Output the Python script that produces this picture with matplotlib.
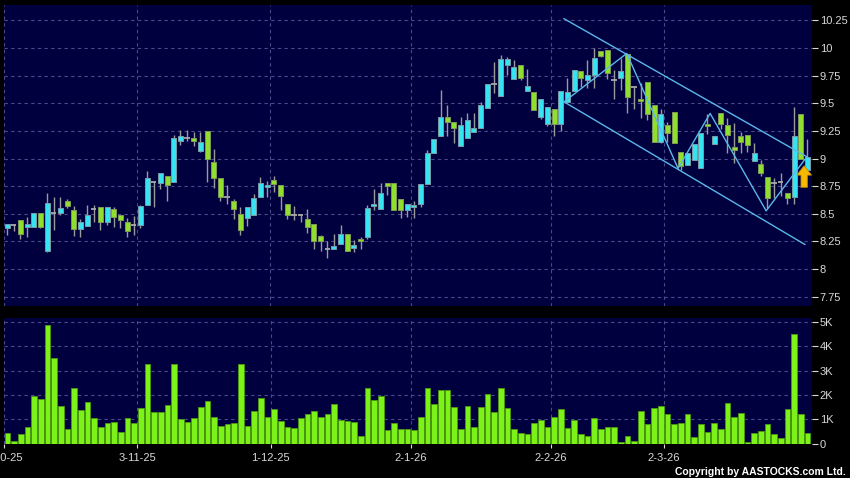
import matplotlib
matplotlib.use("Agg")
import matplotlib.pyplot as plt
import numpy as np

# daily OHLC (oldest first)
opens = [8.37, 8.40, 8.44, 8.38, 8.38, 8.51, 8.16, 8.51, 8.51, 8.62,
         8.53, 8.36, 8.39, 8.54, 8.56, 8.43, 8.54, 8.49, 8.43, 8.40,
         8.40, 8.58, 8.79, 8.78, 8.84, 8.79, 9.16, 9.19, 9.19, 9.07,
         9.25, 8.97, 8.82, 8.65, 8.62, 8.50, 8.46, 8.49, 8.65, 8.74,
         8.81, 8.76, 8.59, 8.49, 8.49, 8.45, 8.41, 8.30, 8.18, 8.18,
         8.23, 8.32, 8.19, 8.27, 8.29, 8.57, 8.54, 8.78, 8.78, 8.63,
         8.53, 8.56, 8.59, 8.77, 9.05, 9.20, 9.38, 9.33, 9.11, 9.19,
         9.24, 9.28, 9.46, 9.67, 9.57, 9.85, 9.72, 9.85, 9.61, 9.60,
         9.38, 9.31, 9.45, 9.31, 9.51, 9.61, 9.79, 9.71, 9.76, 9.97,
         9.98, 9.71, 9.73, 9.95, 9.65, 9.54, 9.69, 9.48, 9.15, 9.30,
         9.42, 9.06, 8.94, 8.99, 8.91, 9.31, 9.13, 9.41, 9.30, 9.10,
         9.20, 9.21, 8.98, 8.95, 8.83, 8.78, 8.79, 8.69, 8.65, 9.40,
         8.90]
highs = [8.41, 8.41, 8.44, 8.47, 8.51, 8.51, 8.69, 8.65, 8.65, 8.63,
         8.57, 8.45, 8.58, 8.58, 8.56, 8.56, 8.56, 8.49, 8.46, 8.48,
         8.58, 8.89, 8.79, 8.87, 8.84, 9.21, 9.26, 9.26, 9.24, 9.24,
         9.25, 9.09, 8.82, 8.76, 8.63, 8.56, 8.56, 8.68, 8.83, 8.80,
         8.84, 8.76, 8.59, 8.57, 8.50, 8.54, 8.41, 8.31, 8.25, 8.32,
         8.40, 8.32, 8.26, 8.29, 8.58, 8.72, 8.78, 8.78, 8.78, 8.63,
         8.59, 8.62, 8.77, 9.08, 9.18, 9.62, 9.48, 9.33, 9.38, 9.41,
         9.41, 9.51, 9.67, 9.87, 9.94, 9.92, 9.89, 9.85, 9.81, 9.60,
         9.54, 9.47, 9.45, 9.61, 9.73, 9.80, 9.79, 9.89, 10.00, 9.97,
         9.98, 9.80, 9.91, 9.95, 9.65, 9.68, 9.69, 9.48, 9.45, 9.33,
         9.42, 9.06, 9.05, 9.13, 9.23, 9.40, 9.20, 9.41, 9.37, 9.32,
         9.24, 9.21, 9.14, 8.99, 8.83, 8.82, 8.87, 8.69, 9.47, 9.40,
         9.18]
lows = [8.31, 8.34, 8.27, 8.29, 8.38, 8.37, 8.15, 8.35, 8.49, 8.55,
        8.30, 8.29, 8.39, 8.43, 8.35, 8.40, 8.38, 8.37, 8.29, 8.31,
        8.37, 8.58, 8.56, 8.72, 8.62, 8.79, 9.12, 9.16, 9.11, 9.06,
        8.79, 8.73, 8.62, 8.59, 8.45, 8.31, 8.39, 8.49, 8.65, 8.65,
        8.70, 8.53, 8.45, 8.44, 8.43, 8.33, 8.18, 8.16, 8.10, 8.18,
        8.23, 8.16, 8.15, 8.18, 8.27, 8.53, 8.54, 8.67, 8.53, 8.46,
        8.47, 8.46, 8.56, 8.77, 9.05, 9.20, 9.20, 9.14, 9.11, 9.19,
        9.24, 9.28, 9.46, 9.59, 9.57, 9.76, 9.72, 9.71, 9.61, 9.44,
        9.36, 9.29, 9.20, 9.25, 9.51, 9.61, 9.65, 9.64, 9.64, 9.92,
        9.72, 9.54, 9.62, 9.41, 9.45, 9.37, 9.35, 9.15, 9.14, 9.15,
        9.14, 8.90, 8.94, 8.99, 8.91, 9.22, 9.13, 9.27, 9.05, 8.96,
        9.05, 9.06, 8.98, 8.84, 8.55, 8.64, 8.66, 8.59, 8.59, 9.00,
        8.90]
closes = [8.41, 8.40, 8.32, 8.41, 8.51, 8.38, 8.60, 8.51, 8.55, 8.57,
          8.36, 8.43, 8.49, 8.54, 8.43, 8.56, 8.47, 8.44, 8.34, 8.40,
          8.57, 8.82, 8.79, 8.87, 8.76, 9.19, 9.20, 9.19, 9.16, 9.15,
          9.00, 8.82, 8.65, 8.65, 8.54, 8.35, 8.56, 8.64, 8.78, 8.76,
          8.77, 8.66, 8.49, 8.49, 8.49, 8.38, 8.25, 8.25, 8.18, 8.21,
          8.32, 8.16, 8.22, 8.25, 8.55, 8.59, 8.69, 8.75, 8.53, 8.53,
          8.59, 8.58, 8.77, 9.05, 9.18, 9.38, 9.33, 9.28, 9.30, 9.35,
          9.28, 9.48, 9.67, 9.67, 9.90, 9.90, 9.83, 9.73, 9.66, 9.44,
          9.54, 9.47, 9.31, 9.61, 9.60, 9.80, 9.73, 9.76, 9.91, 9.93,
          9.77, 9.71, 9.79, 9.56, 9.65, 9.52, 9.40, 9.15, 9.40, 9.23,
          9.14, 8.93, 9.05, 9.13, 9.23, 9.29, 9.20, 9.31, 9.21, 9.08,
          9.15, 9.12, 9.05, 8.87, 8.64, 8.78, 8.79, 8.64, 9.20, 9.00,
          9.01]
# volume in thousands
volume = [0.45, 0.10, 0.41, 0.69, 1.94, 1.82, 4.88, 3.51, 1.56, 0.61,
          2.29, 1.36, 1.71, 1.07, 0.66, 0.84, 0.87, 0.47, 1.03, 0.84,
          1.45, 3.28, 1.31, 1.28, 1.58, 3.28, 1.02, 0.88, 1.05, 1.52,
          1.74, 1.10, 0.72, 0.81, 0.84, 3.28, 0.74, 1.35, 1.89, 1.10,
          1.43, 0.92, 0.67, 0.63, 1.03, 1.20, 1.35, 1.10, 1.21, 1.63,
          0.98, 0.91, 0.88, 0.29, 2.29, 1.79, 1.97, 0.56, 0.83, 0.59,
          0.59, 0.56, 1.09, 2.29, 1.64, 2.22, 2.19, 1.52, 0.58, 1.53,
          0.69, 1.49, 2.04, 1.31, 2.27, 1.45, 0.61, 0.44, 0.39, 0.83,
          0.98, 0.70, 1.10, 1.43, 0.63, 0.96, 0.40, 0.32, 1.05, 0.58,
          0.67, 0.70, 0.08, 0.30, 0.12, 1.35, 0.80, 1.45, 1.54, 1.21,
          0.81, 0.84, 1.23, 0.26, 0.81, 0.47, 0.83, 0.61, 1.65, 1.09,
          1.24, 0.06, 0.44, 0.50, 0.81, 0.39, 0.23, 1.42, 4.53, 1.21,
          0.43]

# month starts (bar index) and labels
date_idx = [0, 20, 40, 61, 82, 99]
date_labels = ["2-10-25", "3-11-25", "1-12-25", "2-1-26", "2-2-26", "2-3-26"]

price_ticks = [7.75, 8, 8.25, 8.5, 8.75, 9, 9.25, 9.5, 9.75, 10, 10.25]
vol_ticks = [0, 1, 2, 3, 4, 5]
vol_labels = ["0", "1K", "2K", "3K", "4K", "5K"]

# drawn trend channel and zigzag (bar index, price)
upper_x = [83.5, 119.9]
upper_y = [10.265, 9.016]
lower_x = [83.5, 119.6]
lower_y = [9.513, 8.223]
zig_x = [83.5, 92.9, 100.6, 105.4, 113.8, 119.9]
zig_y = [9.513, 9.951, 8.911, 9.408, 8.527, 9.016]

BG = "#00003f"
GRID = "#4a4a8a"
TXT = "#d8d8d8"
UP = "#36e3f0"
DOWN = "#8fe02c"
LINE = "#5ab8ea"

plt.rcParams["font.family"] = ["Liberation Sans", "DejaVu Sans"]

fig = plt.figure(figsize=(8.5, 4.78), dpi=100, facecolor="black")
W, H = 850.0, 478.0
ax = fig.add_axes([4 / W, 1 - 306 / H, 807.5 / W, 301 / H], facecolor=BG)
axv = fig.add_axes([4 / W, 1 - 443.5 / H, 807.5 / W, 125.5 / H], facecolor=BG)

n = len(closes)
x = np.arange(n)
o = np.array(opens)
c = np.array(closes)

# candles
ax.vlines(x, lows, highs, color="#9a9a9a", lw=1, zorder=2)
up = c > o
dn = c < o
eq = c == o
ax.bar(x[up], (c - o)[up], bottom=o[up], width=0.75, color=UP,
       edgecolor="#7a9aa6", lw=0.7, zorder=3)
ax.bar(x[dn], (o - c)[dn], bottom=c[dn], width=0.75, color=DOWN,
       edgecolor="#7f9a55", lw=0.7, zorder=3)
ax.hlines(c[eq], x[eq] - 0.4, x[eq] + 0.4, color="#a8a8a8", lw=1.3, zorder=3)

ax.plot(upper_x, upper_y, color=LINE, lw=1, zorder=4)
ax.plot(lower_x, lower_y, color=LINE, lw=1, zorder=4)
ax.plot(zig_x, zig_y, color=LINE, lw=1, zorder=4)

ax.arrow(119.5, 8.74, 0, 0.195, width=0.95, head_width=2.2, head_length=0.085,
         length_includes_head=True, fc="#f7b900", ec="#c98a00", lw=0.6, zorder=5)

# volume
axv.bar(x, volume, width=0.85, color="#7cf218", edgecolor="#4c9a10", lw=0.6, zorder=3)

grid_x = [d - 0.5 for d in date_idx]
for a in (ax, axv):
    a.set_xlim(-0.45, 120.6)
    for s in a.spines.values():
        s.set_visible(False)
    for gx in grid_x:
        a.axvline(gx, color=GRID, lw=0.8, ls=(0, (3, 3)), zorder=1)
    a.yaxis.tick_right()
    a.tick_params(axis="y", colors=TXT, labelsize=8, length=4, width=0.8, pad=2)

ax.set_ylim(7.666, 10.389)
ax.set_yticks(price_ticks)
ax.set_yticklabels(["%g" % t for t in price_ticks])
ax.yaxis.grid(True, color=GRID, lw=0.8, ls=(0, (3, 3)), zorder=1)
ax.set_axisbelow(True)
ax.set_xticks([])

axv.set_ylim(0, 5.17)
axv.set_yticks(vol_ticks)
axv.set_yticklabels(vol_labels)
axv.yaxis.grid(True, color=GRID, lw=0.8, ls=(0, (3, 3)), zorder=1)
axv.set_axisbelow(True)
axv.set_xticks(grid_x)
axv.set_xticklabels(date_labels)
axv.tick_params(axis="x", colors=TXT, labelsize=8, length=3, width=0.8, pad=4)

fig.text(846 / W, 1 - 472 / H, "Copyright by AASTOCKS.com Ltd.", color="white",
         fontsize=7.5, fontweight="bold", ha="right", va="center")

fig.savefig("out.png", dpi=100, facecolor="black")
